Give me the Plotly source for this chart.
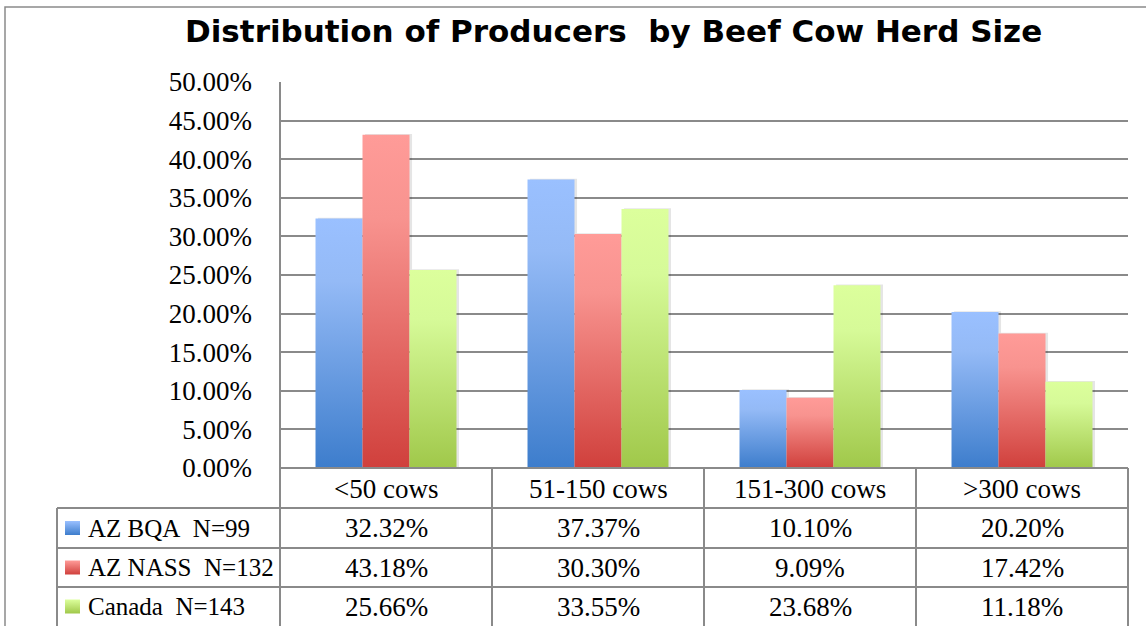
import plotly.graph_objects as go

# ---------------- data ----------------
categories = ["<50 cows", "51-150 cows", "151-300 cows", ">300 cows"]
series_names = ["AZ BQA\u00a0\u00a0N=99", "AZ NASS\u00a0\u00a0N=132", "Canada\u00a0\u00a0N=143"]
az_bqa = [32.32, 37.37, 10.10, 20.20]
az_nass = [43.18, 30.30, 9.09, 17.42]
canada = [25.66, 33.55, 23.68, 11.18]
y_ticks = [0, 5, 10, 15, 20, 25, 30, 35, 40, 45, 50]
title_text = "Distribution of Producers\u00a0 by Beef Cow Herd Size"

series_values = [az_bqa, az_nass, canada]
series_scales = [
    [[0, "#3d7dcc"], [0.75, "#94baf6"], [1, "#9ac0ff"]],
    [[0, "#d0403c"], [0.75, "#f8938f"], [1, "#ff9b98"]],
    [[0, "#a0c84a"], [0.75, "#d6fa98"], [1, "#dcff9c"]],
]

# ---------------- layout geometry (pixels) ----------------
W, H = 1146, 626
PL, PR, PT, PB = 280, 1128, 82, 468
LEG_L = 57
COLS = [280, 492, 704, 916, 1128]
ROWS = [468, 508, 548, 587, 640]
GRID = "#8a8a8a"
SERIF = "Liberation Serif"


def fx(x):
    return x / W


def fy(y):
    return 1 - y / H


fig = go.Figure()

n_series = len(series_values)
group_frac = 0.665
bw = group_frac / n_series

# bars (gradient-filled polygons through the data axes)
for j, (vals, cs) in enumerate(zip(series_values, series_scales)):
    for i, v in enumerate(vals):
        x0 = i - group_frac / 2 + j * bw
        x1 = x0 + bw
        # soft shadow
        fig.add_trace(go.Scatter(
            x=[x0 + 0.012, x0 + 0.012, x1 + 0.012, x1 + 0.012, x0 + 0.012],
            y=[0, v + 0.1, v + 0.1, 0, 0],
            fill="toself", mode="lines", line=dict(width=0),
            fillcolor="rgba(0,0,0,0.10)", hoverinfo="skip", showlegend=False,
        ))
        fig.add_trace(go.Scatter(
            x=[x0, x0, x1, x1, x0], y=[0, v, v, 0, 0],
            fill="toself", mode="lines", line=dict(width=0),
            fillgradient=dict(type="vertical", colorscale=cs, start=0, stop=v),
            hoverinfo="skip", showlegend=False, name=series_names[j],
        ))

# legend swatches in a full-figure pixel-coordinate subplot
for j, cs in enumerate(series_scales):
    yc = (ROWS[j + 1] + ROWS[j + 2]) / 2 if j < 2 else (ROWS[3] + H) / 2
    sx0, sx1 = 65, 80
    sy0, sy1 = yc - 7, yc + 7
    fig.add_trace(go.Scatter(
        x=[sx0, sx0, sx1, sx1, sx0], y=[sy1, sy0, sy0, sy1, sy1],
        xaxis="x2", yaxis="y2",
        fill="toself", mode="lines", line=dict(width=0),
        fillgradient=dict(type="vertical", colorscale=[[0, cs[-1][1]], [1, cs[0][1]]],
                          start=sy0, stop=sy1),
        hoverinfo="skip", showlegend=False,
    ))

shapes = []
# outer chart border
shapes.append(dict(type="rect", xref="paper", yref="paper",
                   x0=fx(5), x1=fx(1160), y0=fy(7), y1=fy(700),
                   line=dict(color="#8a8a8a", width=1.5), layer="below"))
# vertical table/axis lines
shapes.append(dict(type="line", xref="paper", yref="paper",
                   x0=fx(PL), x1=fx(PL), y0=fy(PT), y1=fy(640),
                   line=dict(color=GRID, width=2)))
for cx in COLS[1:]:
    shapes.append(dict(type="line", xref="paper", yref="paper",
                       x0=fx(cx), x1=fx(cx), y0=fy(ROWS[0]), y1=fy(640),
                       line=dict(color=GRID, width=2)))
shapes.append(dict(type="line", xref="paper", yref="paper",
                   x0=fx(LEG_L), x1=fx(LEG_L), y0=fy(ROWS[1]), y1=fy(640),
                   line=dict(color=GRID, width=2)))
# horizontal table lines
shapes.append(dict(type="line", xref="paper", yref="paper",
                   x0=fx(PL), x1=fx(PR), y0=fy(ROWS[0]), y1=fy(ROWS[0]),
                   line=dict(color=GRID, width=2)))
for ry in ROWS[1:4]:
    shapes.append(dict(type="line", xref="paper", yref="paper",
                       x0=fx(LEG_L), x1=fx(PR), y0=fy(ry), y1=fy(ry),
                       line=dict(color=GRID, width=2)))

annotations = []
# title
annotations.append(dict(text="<b>" + title_text + "</b>", xref="paper", yref="paper",
                        x=fx(613), y=fy(31), xanchor="center", yanchor="middle",
                        showarrow=False,
                        font=dict(family="DejaVu Sans", size=31, color="#000")))
# header row
for i, c in enumerate(categories):
    cx = (COLS[i] + COLS[i + 1]) / 2
    annotations.append(dict(text=c, xref="paper", yref="paper",
                            x=fx(cx), y=fy((ROWS[0] + ROWS[1]) / 2 + 1),
                            xanchor="center", yanchor="middle", showarrow=False,
                            font=dict(family=SERIF, size=27, color="#000")))
# data rows
for j, vals in enumerate(series_values):
    yc = (ROWS[j + 1] + ROWS[j + 2]) / 2 if j < 2 else (ROWS[3] + H) / 2
    annotations.append(dict(text=series_names[j], xref="paper", yref="paper",
                            x=fx(86), y=fy(yc), xanchor="left", yanchor="middle",
                            showarrow=False,
                            font=dict(family=SERIF, size=25, color="#000")))
    for i, v in enumerate(vals):
        cx = (COLS[i] + COLS[i + 1]) / 2
        annotations.append(dict(text=f"{v:.2f}%", xref="paper", yref="paper",
                                x=fx(cx), y=fy(yc), xanchor="center", yanchor="middle",
                                showarrow=False,
                                font=dict(family=SERIF, size=27, color="#000")))

fig.update_layout(
    width=W, height=H,
    margin=dict(l=0, r=0, t=0, b=0, pad=0, autoexpand=False),
    paper_bgcolor="white", plot_bgcolor="rgba(0,0,0,0)",
    showlegend=False,
    xaxis=dict(domain=[fx(PL), fx(PR)], range=[-0.5, len(categories) - 0.5],
               showgrid=False, zeroline=False, showticklabels=False, showline=False,
               fixedrange=True, automargin=False),
    yaxis=dict(domain=[fy(PB), fy(PT)], range=[0, 50],
               tickvals=y_ticks, ticktext=[f"{t:.2f}%" for t in y_ticks],
               showgrid=True, gridcolor=GRID, gridwidth=2, zeroline=False,
               showline=False, ticks="", ticklabelstandoff=27,
               tickfont=dict(family=SERIF, size=27, color="#000"),
               fixedrange=True, automargin=False),
    xaxis2=dict(domain=[0, 1], range=[0, W], visible=False, anchor="y2",
                fixedrange=True, automargin=False),
    yaxis2=dict(domain=[0, 1], range=[H, 0], visible=False, anchor="x2",
                fixedrange=True, automargin=False),
    shapes=shapes,
    annotations=annotations,
)

fig.write_html("out.html")
